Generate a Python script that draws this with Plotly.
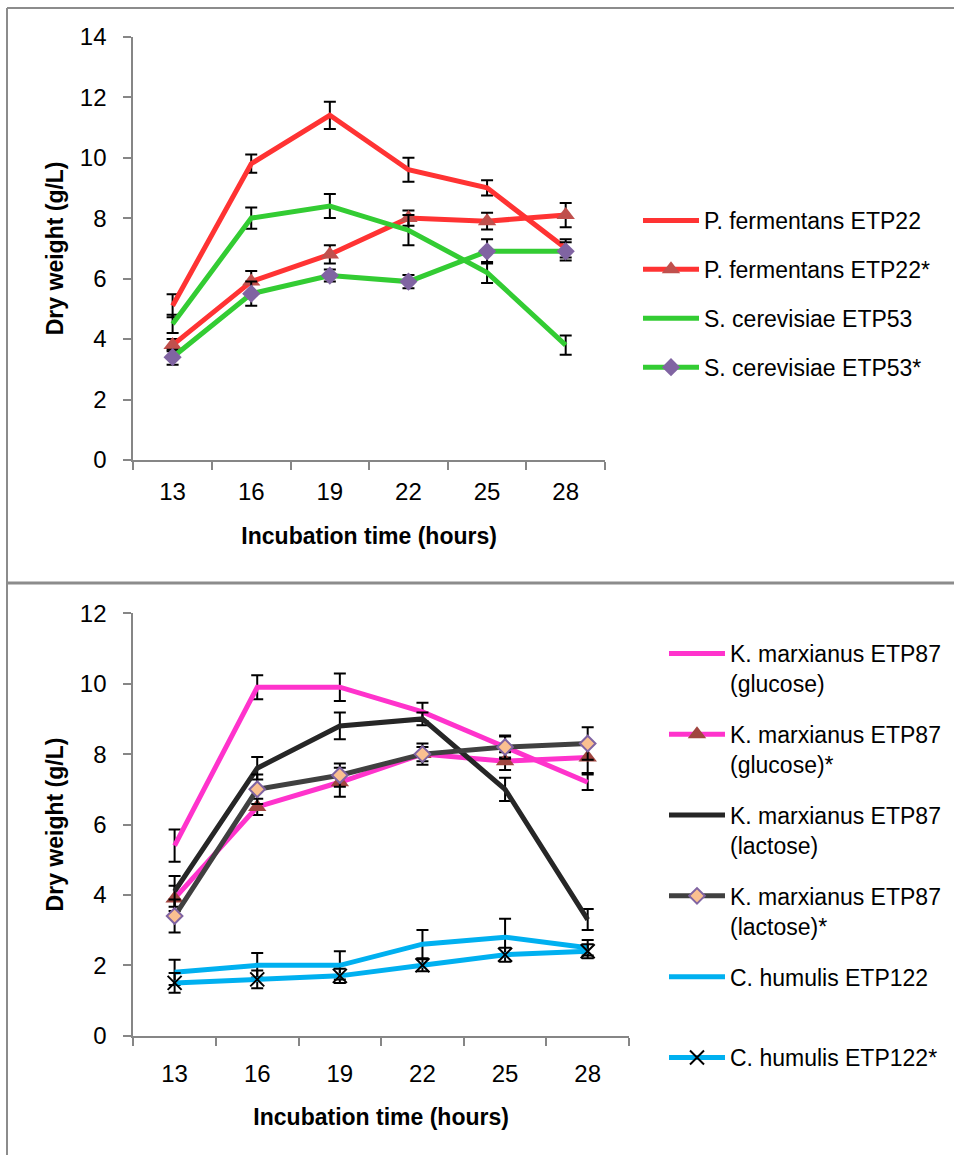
import plotly.graph_objects as go

# Sampling times (hours)
hours = ["13", "16", "19", "22", "25", "28"]

# Upper panel: dry weight (g/L) with standard deviations
pf = [5.1, 9.8, 11.4, 9.6, 9.0, 7.0]
pf_err = [0.38, 0.3, 0.45, 0.4, 0.25, 0.3]
pf_s = [3.8, 5.9, 6.8, 8.0, 7.9, 8.1]
pf_s_err = [0.2, 0.35, 0.3, 0.25, 0.28, 0.4]
sc = [4.5, 8.0, 8.4, 7.6, 6.2, 3.8]
sc_err = [0.3, 0.35, 0.4, 0.5, 0.35, 0.32]
sc_s = [3.4, 5.5, 6.1, 5.9, 6.9, 6.9]
sc_s_err = [0.25, 0.4, 0.2, 0.22, 0.4, 0.3]

# Lower panel
km_glu = [5.4, 9.9, 9.9, 9.2, 8.2, 7.2]
km_glu_err = [0.46, 0.34, 0.39, 0.26, 0.3, 0.22]
km_glu_s = [3.9, 6.5, 7.2, 8.0, 7.8, 7.9]
km_glu_s_err = [0.36, 0.23, 0.41, 0.2, 0.25, 0.44]
km_lac = [4.1, 7.6, 8.8, 9.0, 7.0, 3.3]
km_lac_err = [0.44, 0.32, 0.38, 0.18, 0.33, 0.3]
km_lac_s = [3.4, 7.0, 7.4, 8.0, 8.2, 8.3]
km_lac_s_err = [0.47, 0.42, 0.33, 0.3, 0.33, 0.46]
ch = [1.8, 2.0, 2.0, 2.6, 2.8, 2.5]
ch_err = [0.36, 0.35, 0.4, 0.4, 0.52, 0.22]
ch_s = [1.5, 1.6, 1.7, 2.0, 2.3, 2.4]
ch_s_err = [0.28, 0.25, 0.2, 0.17, 0.2, 0.2]

W, H = 954, 1155
FONT = "Liberation Sans, Arial, sans-serif"
AXIS_GRAY = "#868686"


def px_x(v):
    return v / W


def px_y(v):
    return 1 - v / H


fig = go.Figure()


def add_series(name, y, err, color, axes, legend, group, marker=None, line_color=None):
    xa, ya = axes
    kw = dict(
        x=hours, y=y, name=name, xaxis=xa, yaxis=ya, legend=legend,
        legendgroup=group,
        line=dict(color=line_color or color, width=5),
        error_y=dict(type="data", array=err, visible=True, color="black",
                     thickness=2, width=6),
    )
    if marker:
        kw["mode"] = "lines+markers"
        kw["marker"] = marker
    else:
        kw["mode"] = "lines"
    fig.add_trace(go.Scatter(**kw))


top = ("x", "y")
bot = ("x2", "y2")

add_series("P. fermentans ETP22", pf, pf_err, "#FF3333", top, "legend", "a")
add_series("P. fermentans ETP22*", pf_s, pf_s_err, "#FF3333", top, "legend", "b",
           marker=dict(symbol="triangle-up", size=16, color="#C0504D"))
add_series("S. cerevisiae ETP53", sc, sc_err, "#33CC33", top, "legend", "c")
add_series("S. cerevisiae ETP53*", sc_s, sc_s_err, "#33CC33", top, "legend", "d",
           marker=dict(symbol="diamond", size=14, color="#8064A2"))

add_series("K. marxianus ETP87<br>(glucose)", km_glu, km_glu_err, "#FF33CC", bot, "legend2", "e")
add_series("K. marxianus ETP87<br>(glucose)*", km_glu_s, km_glu_s_err, "#FF33CC", bot, "legend2", "f",
           marker=dict(symbol="triangle-up", size=16, color="#A0453F"))
add_series("K. marxianus ETP87<br>(lactose)", km_lac, km_lac_err, "#262626", bot, "legend2", "g")
add_series("K. marxianus ETP87<br>(lactose)*", km_lac_s, km_lac_s_err, "#404040", bot, "legend2", "h",
           marker=dict(symbol="diamond", size=12, color="#FAC090",
                       line=dict(color="#8064A2", width=2)))
add_series("C. humulis ETP122<br>\u00a0", ch, ch_err, "#00B0F0", bot, "legend2", "i")
add_series("C. humulis ETP122*<br>\u00a0", ch_s, ch_s_err, "#00B0F0", bot, "legend2", "j",
           marker=dict(symbol="x-thin", size=14, color="black",
                       line=dict(color="black", width=2)))

tickfont = dict(family=FONT, size=24, color="black")
titlefont = dict(family=FONT, size=23, color="black", weight="bold")

xaxis_common = dict(
    type="category", tickson="boundaries", range=[-0.5, 5.5],
    showline=True, linecolor=AXIS_GRAY, linewidth=2,
    ticks="outside", ticklen=8, tickwidth=2, tickcolor=AXIS_GRAY,
    showgrid=False, zeroline=False, tickfont=tickfont, fixedrange=True,
)
yaxis_common = dict(
    showline=True, linecolor=AXIS_GRAY, linewidth=2,
    ticks="outside", ticklen=8, tickwidth=2, tickcolor=AXIS_GRAY,
    showgrid=False, zeroline=False, tickfont=tickfont, dtick=2,
    ticklabelstandoff=12, fixedrange=True,
)

fig.update_layout(
    width=W, height=H,
    margin=dict(l=0, r=0, t=0, b=0, autoexpand=False),
    paper_bgcolor="white", plot_bgcolor="white",
    font=dict(family=FONT, color="black"),
    xaxis=dict(xaxis_common, domain=[px_x(133.3), px_x(605)], anchor="y",
               ticklabelstandoff=9,
               title=dict(text="Incubation time (hours)", font=titlefont, standoff=24)),
    yaxis=dict(yaxis_common, domain=[px_y(460), px_y(36.7)], anchor="x", range=[0, 14],
               title=dict(text="Dry weight (g/L)", font=titlefont, standoff=10)),
    xaxis2=dict(xaxis_common, domain=[px_x(133.3), px_x(629)], anchor="y2",
                ticklabelstandoff=15,
                title=dict(text="Incubation time (hours)", font=titlefont, standoff=23)),
    yaxis2=dict(yaxis_common, domain=[px_y(1035.7), px_y(613.3)], anchor="x2", range=[0, 12],
                title=dict(text="Dry weight (g/L)", font=titlefont, standoff=10)),
    legend=dict(
        x=px_x(638), y=px_y(199), xanchor="left", yanchor="top",
        font=dict(family=FONT, size=23, color="black"),
        itemwidth=56, tracegroupgap=16, bgcolor="rgba(0,0,0,0)",
        itemclick=False, itemdoubleclick=False,
    ),
    legend2=dict(
        x=px_x(664), y=px_y(632), xanchor="left", yanchor="top",
        font=dict(family=FONT, size=23, color="black"),
        itemwidth=56, tracegroupgap=18, valign="top", bgcolor="rgba(0,0,0,0)",
        itemclick=False, itemdoubleclick=False,
    ),
    showlegend=True,
)

# Panel frame: outer top/left border and the divider between the two panels
frame = dict(type="line", xref="paper", yref="paper", line=dict(color="#8C8C8C", width=2))
fig.add_shape(frame, x0=px_x(7), x1=1, y0=px_y(8), y1=px_y(8))
fig.add_shape(frame, x0=px_x(7), x1=px_x(7), y0=px_y(8), y1=0)
fig.add_shape(dict(frame, line=dict(color="#8C8C8C", width=3)),
              x0=px_x(7), x1=1, y0=px_y(583), y1=px_y(583))

fig.write_html("out.html", config={"displayModeBar": False})
